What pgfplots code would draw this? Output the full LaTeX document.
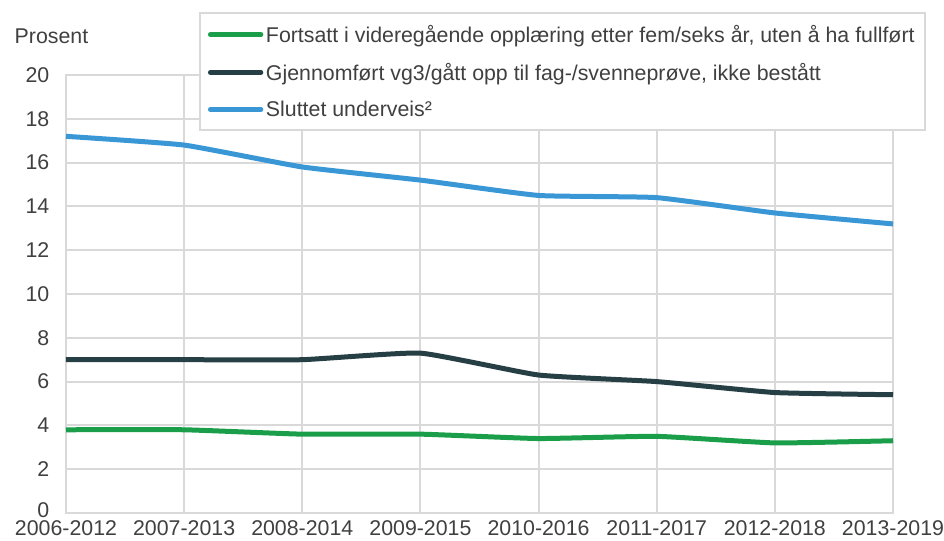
\documentclass[border=0pt]{standalone}
\usepackage{pgfplots}
\pgfplotsset{compat=1.18}
\usepackage{fontspec}
\setmainfont{Liberation Sans}
\definecolor{cgreen}{HTML}{1A9E4A}
\definecolor{cdark}{HTML}{263F45}
\definecolor{cblue}{HTML}{3A97D6}
\definecolor{cgrid}{HTML}{D9D9D9}
\definecolor{ctext}{HTML}{404040}
\begin{document}
\begin{tikzpicture}
\begin{axis}[
  name=ax,
  scale only axis,
  width=620.25pt, height=328.5pt,
  xmin=0, xmax=7, ymin=0, ymax=20,
  xtick={0,1,2,3,4,5,6,7},
  xticklabels={2006-2012,2007-2013,2008-2014,2009-2015,2010-2016,2011-2017,2012-2018,2013-2019},
  ytick={2,4,...,20},
  extra y ticks={0},
  extra y tick style={yticklabel style={yshift=2.5pt}},
  grid=major,
  major grid style={cgrid, line width=1.5pt},
  axis line style={cgrid, line width=1.5pt},
  major tick length=0pt,
  tick label style={font=\fontsize{16}{18}\selectfont, text=ctext},
  /pgf/number format/assume math mode=true,
  yticklabel style={xshift=-9pt},
  xticklabel style={yshift=-2pt},
  legend cell align=left,
  legend style={at={(rel axis cs:0.1608,1.1438)}, anchor=north west,
    draw=cgrid, line width=1.5pt, font=\fontsize{16}{18}\selectfont, text=ctext,
    row sep=10pt, inner xsep=6pt, inner ysep=7pt},
  legend image code/.code={\draw[line width=3.5pt, line cap=round] (0pt,0pt) -- (38pt,0pt);},
  every axis plot/.append style={line width=3.75pt, smooth, tension=0.25},
  clip=false,
]
\addplot[cgreen] coordinates {(0,3.8)(1,3.8)(2,3.6)(3,3.6)(4,3.4)(5,3.5)(6,3.2)(7,3.3)};
\addlegendentry{Fortsatt i videregående opplæring etter fem/seks år, uten å ha fullført}
\addplot[cdark] coordinates {(0,7.0)(1,7.0)(2,7.0)(3,7.3)(4,6.3)(5,6.0)(6,5.5)(7,5.4)};
\addlegendentry{Gjennomført vg3/gått opp til fag-/svenneprøve, ikke bestått}
\addplot[cblue] coordinates {(0,17.2)(1,16.8)(2,15.8)(3,15.2)(4,14.5)(5,14.4)(6,13.7)(7,13.2)};
\addlegendentry{Sluttet underveis²}
\end{axis}
\node[anchor=base west, font=\fontsize{16}{18}\selectfont, text=ctext] at ([xshift=-42pt,yshift=23.25pt]ax.north west) {Prosent};
\pgfresetboundingbox
\path ([xshift=-49.5pt,yshift=-21pt]ax.south west) rectangle ([xshift=658.5pt,yshift=384.75pt]ax.south west);
\end{tikzpicture}
\end{document}
